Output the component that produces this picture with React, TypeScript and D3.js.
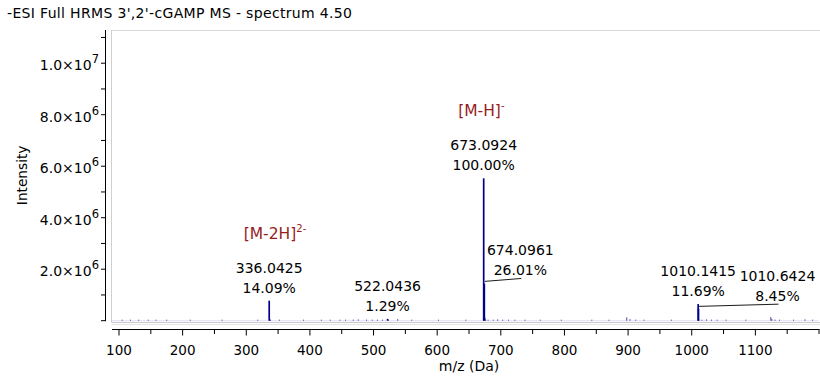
import React from 'react';
import * as d3 from 'd3';

// ---------- data ----------
const TITLE = "-ESI Full HRMS 3',2'-cGAMP MS - spectrum 4.50";
const X_LABEL = 'm/z (Da)';
const Y_LABEL = 'Intensity';
const BASE_PEAK_INTENSITY = 5.53e6;

// labelled peaks
const peakMz = [336.0425, 522.0436, 673.0924, 674.0961, 1010.1415, 1010.6424];
const peakRel = [14.09, 1.29, 100.0, 26.01, 11.69, 8.45];

// ion annotations
const ionMz = [336.0425, 673.0924];
const ionMain = ['[M-2H]', '[M-H]'];
const ionSup = ['2-', '-'];

// small unlabelled peaks / noise (m/z, intensity in counts)
const minorMz = [
  105, 118, 131, 146, 158, 175, 212, 262, 318, 337.04, 338.04, 352, 390, 418, 432, 447, 456, 468,
  476, 489, 498, 506, 514, 523.04, 538, 560, 602, 645, 675.09, 676.1, 680, 688, 695, 703, 712,
  722, 738, 762, 795, 843, 870, 897.9, 903, 912, 925, 968, 1011.14, 1016, 1023, 1031, 1040, 1054,
  1085, 1124.3, 1126, 1131, 1138, 1160, 1178, 1190,
];
const minorInt = [
  0.02e6, 0.02e6, 0.03e6, 0.03e6, 0.02e6, 0.015e6, 0.015e6, 0.015e6, 0.02e6, 0.05e6, 0.03e6,
  0.02e6, 0.015e6, 0.03e6, 0.02e6, 0.03e6, 0.04e6, 0.04e6, 0.05e6, 0.04e6, 0.03e6, 0.04e6, 0.03e6,
  0.03e6, 0.06e6, 0.02e6, 0.015e6, 0.02e6, 0.12e6, 0.05e6, 0.04e6, 0.03e6, 0.05e6, 0.03e6, 0.04e6,
  0.03e6, 0.02e6, 0.02e6, 0.015e6, 0.02e6, 0.02e6, 0.13e6, 0.06e6, 0.04e6, 0.02e6, 0.02e6, 0.06e6,
  0.04e6, 0.05e6, 0.04e6, 0.03e6, 0.02e6, 0.02e6, 0.14e6, 0.06e6, 0.04e6, 0.03e6, 0.02e6, 0.05e6,
  0.02e6,
];

const xMajorTicks = [100, 200, 300, 400, 500, 600, 700, 800, 900, 1000, 1100];
const xMinorTicks = [150, 250, 350, 450, 550, 650, 750, 850, 950, 1050, 1150, 1200];
const yTicks = [0, 1e6, 2e6, 3e6, 4e6, 5e6, 6e6, 7e6, 8e6, 9e6, 10e6, 11e6];
const yLabelMantissa = ['2.0', '4.0', '6.0', '8.0', '1.0'];
const yLabelExp = ['6', '6', '6', '6', '7'];
const yLabelValues = [2e6, 4e6, 6e6, 8e6, 10e6];

// ---------- layout ----------
const W = 820;
const H = 376;
const PX0 = 112;
const PX1 = 819;
const PY0 = 320.7;
const PYTOP = 30;
const FONT = '"DejaVu Sans", Verdana, sans-serif';
const PEAK_COLOR = '#00008b';
const ION_COLOR = '#961c1c';

// per-label layout: label centre offset from peak, and leader line flag
const labelLayout = [
  { dx: 0, dy: -8, leader: false },
  { dx: 0, dy: -8, leader: false },
  { dx: 0, dy: -8, leader: false },
  { dx: 36, dy: -8.7, leader: true },
  { dx: 0, dy: -8, leader: false },
  { dx: 79, dy: -8, leader: true },
];

export default function App() {
  const x = d3.scaleLinear().domain([89, 1200]).range([PX0, PX1]);
  const y = d3.scaleLinear().domain([0, 11.29e6]).range([PY0, PYTOP]);

  const peaks = peakMz.map((mz, i) => ({
    mz,
    rel: peakRel[i],
    intensity: (peakRel[i] / 100) * BASE_PEAK_INTENSITY,
  }));

  return (
    <svg
      width={W}
      height={H}
      style={{ position: 'absolute', left: 0, top: 0, background: '#fff' }}
      fontFamily={FONT}
    >
      <rect x={0} y={0} width={W} height={H} fill="#fff" />
      {/* title */}
      <text x={7} y={18} fontSize={14} fill="#000" textLength={345} lengthAdjust="spacing">
        {TITLE}
      </text>

      {/* plot frame */}
      <line x1={PX0 - 0.5} x2={PX0 - 0.5} y1={PYTOP} y2={322.5} stroke="#d0d0d0" />
      <line x1={PX0 - 0.5} x2={W} y1={PYTOP + 0.5} y2={PYTOP + 0.5} stroke="#d8d8d8" />
      <line x1={PX0 - 0.5} x2={W} y1={322.5} y2={322.5} stroke="#c8c8c8" />
      <line x1={PX0 - 0.5} x2={W} y1={324.5} y2={324.5} stroke="#e4e4e4" />

      {/* baseline */}
      <line x1={PX0} x2={PX1} y1={PY0} y2={PY0} stroke="#5050b0" strokeOpacity={0.18} />

      {/* minor peaks */}
      {minorMz.map((mz, i) => (
        <line
          key={'m' + i}
          x1={x(mz)}
          x2={x(mz)}
          y1={y(0)}
          y2={Math.min(y(minorInt[i]), y(0) - 1)}
          stroke={PEAK_COLOR}
          strokeWidth={1}
          strokeOpacity={0.75}
        />
      ))}

      {/* major peaks */}
      {peaks.map((p, i) => (
        <line
          key={'p' + i}
          x1={x(p.mz)}
          x2={x(p.mz)}
          y1={y(0)}
          y2={y(p.intensity)}
          stroke={PEAK_COLOR}
          strokeWidth={1.7}
        />
      ))}

      {/* peak labels */}
      {peaks.map((p, i) => {
        const L = labelLayout[i];
        const px = x(p.mz);
        const top = y(p.intensity);
        const cx = px + L.dx;
        const b2 = top + L.dy;
        const b1 = b2 - 20;
        return (
          <g key={'l' + i} fontSize={14} fill="#000" textAnchor="middle">
            <text x={cx} y={b1}>
              {p.mz.toFixed(4)}
            </text>
            <text x={cx} y={b2}>
              {p.rel.toFixed(2) + '%'}
            </text>
            {L.leader && (
              <line
                x1={px + 0.5}
                y1={top - 2.3}
                x2={cx + 1}
                y2={b2 + 3.5}
                stroke="#000"
                strokeWidth={0.9}
              />
            )}
          </g>
        );
      })}

      {/* ion annotations */}
      {ionMz.map((mz, i) => {
        const idx = peakMz.indexOf(mz);
        const top = y(peaks[idx].intensity);
        return (
          <text key={'ion' + i} x={x(mz) - 25.5} y={top - 62} fontSize={15.5} fill={ION_COLOR}>
            {ionMain[i]}
            <tspan dy={-7} fontSize={10}>
              {ionSup[i]}
            </tspan>
          </text>
        );
      })}

      {/* y axis */}
      <line x1={105.5} x2={105.5} y1={PYTOP} y2={y(0) + 0.5} stroke="#000" />
      {yTicks.map((t) => (
        <line key={'yt' + t} x1={101} x2={105.5} y1={y(t)} y2={y(t)} stroke="#000" />
      ))}
      {yLabelValues.map((v, i) => (
        <text key={'yl' + v} x={99} y={y(v) + 7} fontSize={14} textAnchor="end" fill="#000">
          {yLabelMantissa[i] + '×10'}
          <tspan dy={-7} fontSize={11.5}>
            {yLabelExp[i]}
          </tspan>
        </text>
      ))}
      <text
        transform={`translate(26.5, ${(PYTOP + PY0) / 2}) rotate(-90)`}
        fontSize={13.7}
        textAnchor="middle"
        fill="#000"
      >
        {Y_LABEL}
      </text>

      {/* x axis */}
      <line x1={PX0} x2={PX1 + 0.5} y1={329.5} y2={329.5} stroke="#000" />
      {xMajorTicks.map((t) => (
        <line key={'xt' + t} x1={x(t)} x2={x(t)} y1={329.5} y2={335.5} stroke="#000" />
      ))}
      {xMinorTicks.map((t) => (
        <line key={'xm' + t} x1={x(t)} x2={x(t)} y1={329.5} y2={334} stroke="#000" />
      ))}
      {xMajorTicks.map((t) => (
        <text key={'xl' + t} x={x(t)} y={355} fontSize={13.5} textAnchor="middle" fill="#000">
          {String(t)}
        </text>
      ))}
      <text x={469} y={371} fontSize={14} textAnchor="middle" fill="#000">
        {X_LABEL}
      </text>
    </svg>
  );
}
